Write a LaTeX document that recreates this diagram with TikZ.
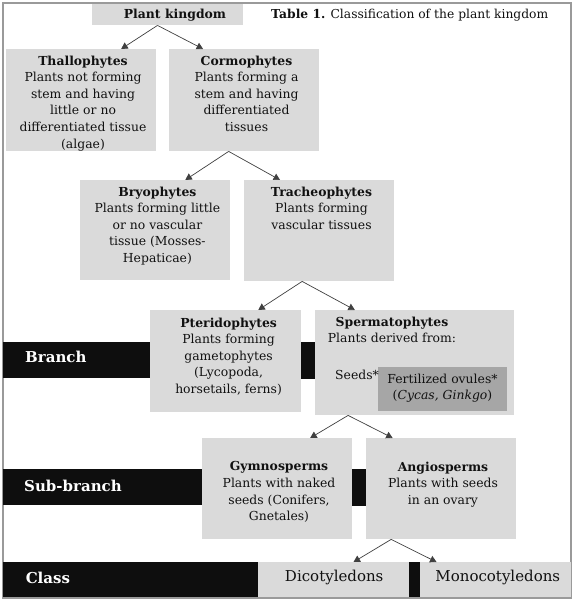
\documentclass[tikz,border=0pt]{standalone}
\usepackage{fontspec}
\setmainfont{DejaVu Serif}
\usetikzlibrary{arrows.meta,calc}
\definecolor{boxgray}{HTML}{DADADA}
\definecolor{darkgray}{HTML}{A6A6A6}
\definecolor{barblack}{HTML}{0E0E0E}
\definecolor{ink}{HTML}{111111}
\definecolor{framegray}{HTML}{9A9A9A}
\begin{document}
\begin{tikzpicture}[x=1pt,y=-1pt,
  box/.style={fill=boxgray,draw=none,inner sep=0,anchor=north west},
  darkbox/.style={fill=darkgray,draw=none,inner sep=0,anchor=north west},
  bar/.style={fill=barblack,draw=none,inner sep=0,anchor=north west},
  txt/.style={font=\fontsize{12.4}{16.6}\selectfont,align=center,inner sep=0,anchor=north,text=ink},
  lbl/.style={font=\fontsize{12.4}{16.6}\selectfont,inner sep=0,text=ink},
  barlbl/.style={font=\fontsize{15}{18}\selectfont\bfseries,inner sep=0,anchor=west,text=white},
  clbl/.style={font=\fontsize{15}{18}\selectfont,inner sep=0,text=ink},
  arr/.style={draw=black!75,line width=0.7pt,-{Triangle[width=7pt,length=6.5pt]}}]
\useasboundingbox (0,0) rectangle (574,600);
\fill[white] (0,0) rectangle (574,600);
\draw[framegray,line width=1.3pt] (3,3) rectangle (571,598);

% boxes
\node[box,minimum width=151pt,minimum height=21pt] (pk) at (91.5,4) {};
\node[box,minimum width=150pt,minimum height=102pt] (thal) at (5.5,49) {};
\node[box,minimum width=150pt,minimum height=102pt] (corm) at (168.5,49) {};
\node[box,minimum width=150pt,minimum height=100pt] (bryo) at (80,180) {};
\node[box,minimum width=150pt,minimum height=101pt] (trach) at (243.5,180) {};
\node[bar,minimum width=147pt,minimum height=36pt] (branch) at (3,342) {};
\node[bar,minimum width=14pt,minimum height=37pt] (branchsep) at (301,342) {};
\node[box,minimum width=151pt,minimum height=102pt] (pter) at (150,310) {};
\node[box,minimum width=199pt,minimum height=105pt] (sperm) at (315,310) {};
\node[darkbox,minimum width=129pt,minimum height=44pt] (fert) at (378,367) {};
\node[bar,minimum width=198.5pt,minimum height=36pt] (subbranch) at (3,469) {};
\node[bar,minimum width=13.5pt,minimum height=37pt] (subsep) at (352,469) {};
\node[box,minimum width=150.5pt,minimum height=101pt] (gymno) at (201.5,438) {};
\node[box,minimum width=150.5pt,minimum height=101pt] (angio) at (365.5,438) {};
\node[bar,minimum width=255pt,minimum height=35pt] (class) at (3,562) {};
\node[box,minimum width=150.5pt,minimum height=35pt] (dico) at (258,562) {};
\node[bar,minimum width=11pt,minimum height=35pt] (classsep) at (408.5,562) {};
\node[box,minimum width=151.5pt,minimum height=35pt] (mono) at (419.5,562) {};

% texts
\node[lbl,font=\fontsize{12.4}{16.6}\selectfont\bfseries] (pkT) at (175,15) {Plant kingdom};
\node[lbl,anchor=west,font=\fontsize{12.3}{15}\selectfont] (title) at (271,15) {\textbf{Table 1.} Classification of the plant kingdom};
\node[txt] (thalT) at (83,55.5) {\textbf{Thallophytes}\\Plants not forming\\stem and having\\little or no\\differentiated tissue\\(algae)};
\node[txt] (cormT) at (246.5,55.5) {\textbf{Cormophytes}\\Plants forming a\\stem and having\\differentiated\\tissues};
\node[txt] (bryoT) at (157.4,186.5) {\textbf{Bryophytes}\\Plants forming little\\or no vascular\\tissue (Mosses-\\Hepaticae)};
\node[txt] (trachT) at (321.5,186.5) {\textbf{Tracheophytes}\\Plants forming\\vascular tissues};
\node[txt] (pterT) at (228.6,317.5) {\textbf{Pteridophytes}\\Plants forming\\gametophytes\\(Lycopoda,\\horsetails, ferns)};
\node[txt] (spermT) at (392,316.5) {\textbf{Spermatophytes}\\Plants derived from:};
\node[lbl,anchor=west] (seeds) at (335,375) {Seeds*};
\node[txt,anchor=center] (fertT) at (442.5,388) {Fertilized ovules*\\(\textit{Cycas, Ginkgo})};
\node[txt] (gymnoT) at (279,461.5) {\textbf{Gymnosperms}\\Plants with naked\\seeds (Conifers,\\Gnetales)};
\node[txt] (angioT) at (443,461.5) {\textbf{Angiosperms}\\Plants with seeds\\in an ovary};
\node[clbl] (dicoT) at (334.2,577.5) {Dicotyledons};
\node[clbl] (monoT) at (497.8,577.5) {Monocotyledons};
\node[barlbl] (branchT) at (25,357) {Branch};
\node[barlbl] (subbranchT) at (24,486) {Sub-branch};
\node[barlbl] (classT) at (25.6,578) {Class};

% connectors
\draw[arr] ($(pk.south west)!0.436!(pk.south east)$) -- ($(thal.north west)!0.769!(thal.north east)$);
\draw[arr] ($(pk.south west)!0.436!(pk.south east)$) -- ($(corm.north west)!0.23!(corm.north east)$);
\draw[arr] ($(corm.south west)!0.40!(corm.south east)$) -- ($(bryo.north west)!0.70!(bryo.north east)$);
\draw[arr] ($(corm.south west)!0.40!(corm.south east)$) -- ($(trach.north west)!0.243!(trach.north east)$);
\draw[arr] ($(trach.south west)!0.39!(trach.south east)$) -- ($(pter.north west)!0.715!(pter.north east)$);
\draw[arr] ($(trach.south west)!0.39!(trach.south east)$) -- ($(sperm.north west)!0.20!(sperm.north east)$);
\draw[arr] ($(sperm.south west)!0.166!(sperm.south east)$) -- ($(gymno.north west)!0.72!(gymno.north east)$);
\draw[arr] ($(sperm.south west)!0.166!(sperm.south east)$) -- ($(angio.north west)!0.18!(angio.north east)$);
\draw[arr] ($(angio.south west)!0.17!(angio.south east)$) -- ($(dico.north west)!0.633!(dico.north east)$);
\draw[arr] ($(angio.south west)!0.17!(angio.south east)$) -- ($(mono.north west)!0.112!(mono.north east)$);
\end{tikzpicture}
\end{document}
